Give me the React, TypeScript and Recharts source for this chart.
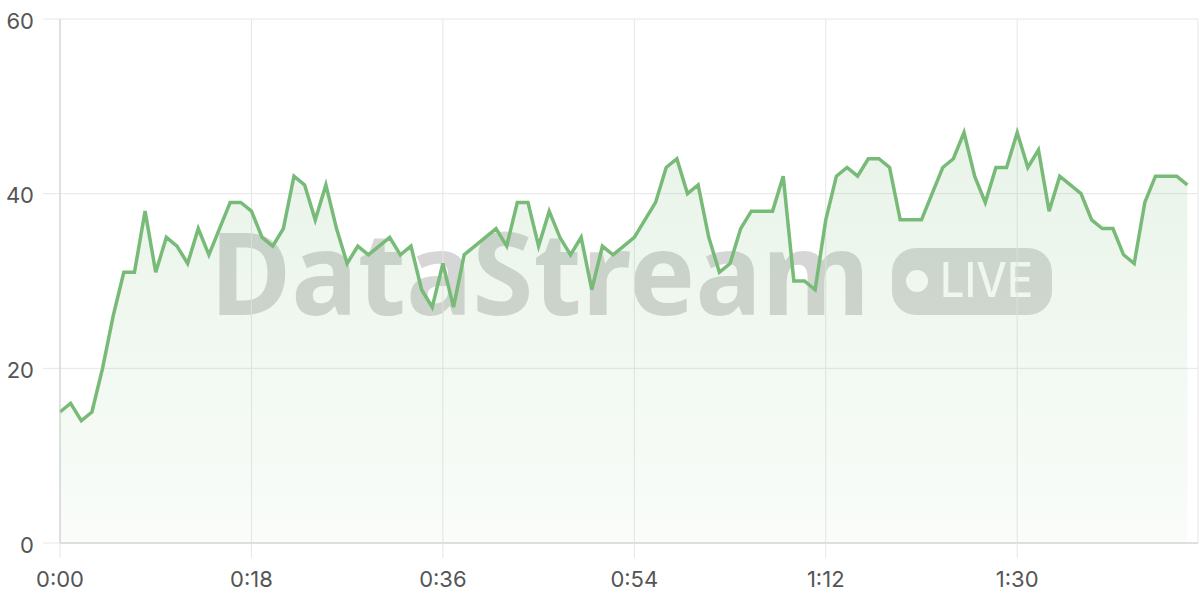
import { Area, AreaChart, CartesianGrid, XAxis, YAxis } from "recharts";

// one sample per second, starting at 0:00
const values: number[] = [
    15, 16, 14, 15, 20, 26, 31, 31, 38, 31,
    35, 34, 32, 36, 33, 36, 39, 39, 38, 35,
    34, 36, 42, 41, 37, 41, 36, 32, 34, 33,
    34, 35, 33, 34, 29, 27, 32, 27, 33, 34,
    35, 36, 34, 39, 39, 34, 38, 35, 33, 35,
    29, 34, 33, 34, 35, 37, 39, 43, 44, 40,
    41, 35, 31, 32, 36, 38, 38, 38, 42, 30,
    30, 29, 37, 42, 43, 42, 44, 44, 43, 37,
    37, 37, 40, 43, 44, 47, 42, 39, 43, 43,
    47, 43, 45, 38, 42, 41, 40, 37, 36, 36,
    33, 32, 39, 42, 42, 42, 41,
];

const xTicks = [0, 18, 36, 54, 72, 90];
const yTicks = [0, 20, 40, 60];

const data = values.map((v, i) => ({ t: i, value: v }));

const fmtTime = (s: number) =>
    `${Math.floor(s / 60)}:${String(s % 60).padStart(2, "0")}`;

const GRID = "#e6e6e6";
const AXIS = "#cccccc";
const GREEN = "#78bb78";
const FONT = "Inter, 'Noto Sans', sans-serif";
const MARK_FONT = "'Noto Sans', 'Open Sans', sans-serif";

function Watermark() {
    return (
        <svg
            width={1200}
            height={600}
            style={{ position: "absolute", left: 0, top: 0 }}
        >
            <defs>
                <mask id="liveMask">
                    <rect x={0} y={0} width={1200} height={600} fill="white" />
                    <circle cx={917} cy={281} r={11} fill="black" />
                    <text
                        x={940}
                        y={297}
                        fontFamily="Inter, sans-serif"
                        fontSize={48}
                        fontWeight={500}
                        textLength={93}
                        lengthAdjust="spacingAndGlyphs"
                        fill="black"
                    >
                        LIVE
                    </text>
                </mask>
            </defs>
            <text
                x={210}
                y={315}
                fontFamily={MARK_FONT}
                fontSize={114}
                fontWeight={700}
                textLength={660}
                lengthAdjust="spacingAndGlyphs"
                fill="rgba(0,0,0,0.16)"
            >
                DataStream
            </text>
            <rect
                x={892}
                y={248}
                width={160}
                height={67}
                rx={24}
                fill="rgba(0,0,0,0.15)"
                mask="url(#liveMask)"
            />
        </svg>
    );
}

export default function App() {
    return (
        <div
            style={{
                position: "fixed",
                left: 0,
                top: 0,
                width: 1200,
                height: 600,
                background: "#ffffff",
            }}
        >
            <Watermark />
            <div style={{ position: "absolute", left: 0, top: 0 }}>
                <AreaChart
                    width={1200}
                    height={600}
                    data={data}
                    margin={{ top: 19, right: 2, left: 0, bottom: 0 }}
                >
                    <defs>
                        <linearGradient id="fillGreen" x1="0" y1="0" x2="0" y2="1">
                            <stop offset="0%" stopColor={GREEN} stopOpacity={0.28} />
                            <stop offset="100%" stopColor={GREEN} stopOpacity={0.07} />
                        </linearGradient>
                    </defs>
                    <CartesianGrid stroke={GRID} />
                    <XAxis
                        dataKey="t"
                        type="number"
                        domain={[0, 107]}
                        ticks={xTicks}
                        tickFormatter={fmtTime}
                        height={57}
                        tickSize={15}
                        tickMargin={13}
                        axisLine={{ stroke: AXIS }}
                        tickLine={{ stroke: GRID }}
                        tick={{ fill: "#555555", fontSize: 22, fontFamily: FONT }}
                    />
                    <YAxis
                        domain={[0, 60]}
                        ticks={yTicks}
                        width={60}
                        tickSize={17}
                        tickMargin={9}
                        axisLine={{ stroke: AXIS }}
                        tickLine={{ stroke: GRID }}
                        tick={{
                            fill: "#555555",
                            fontSize: 22,
                            fontFamily: FONT,
                            dy: 2,
                        }}
                    />
                    <Area
                        type="linear"
                        dataKey="value"
                        stroke={GREEN}
                        strokeWidth={3.5}
                        fill="url(#fillGreen)"
                        isAnimationActive={false}
                        dot={false}
                        activeDot={false}
                    />
                </AreaChart>
            </div>
        </div>
    );
}
